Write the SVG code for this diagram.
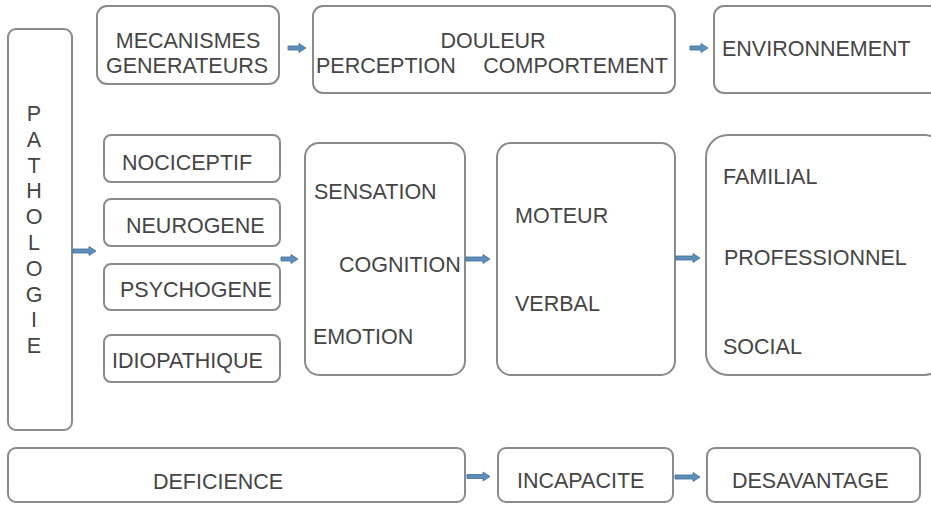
<svg xmlns="http://www.w3.org/2000/svg" width="931" height="505" viewBox="0 0 931 505">
<style>
.b{fill:#fff;stroke:#8a8a8a;stroke-width:2}
.t{font-family:"Liberation Sans",Arial,sans-serif;font-size:21.5px;fill:#454545}
.a{fill:#5d8fbb;stroke:#3f6d96;stroke-width:0.8}
</style>
<rect width="931" height="505" fill="#fff"/>
<g id="pathologie">
<rect class="b" x="8" y="29" width="64" height="401" rx="8"/>
<g class="t" text-anchor="middle">
<text x="34" y="121">P</text><text x="34" y="147">A</text><text x="34" y="173">T</text><text x="34" y="198">H</text><text x="34" y="224">O</text><text x="34" y="250">L</text><text x="34" y="276">O</text><text x="34" y="302">G</text><text x="34" y="327">I</text><text x="34" y="353">E</text>
</g>
</g>
<g id="mecanismes">
<rect class="b" x="97" y="6" width="182" height="78" rx="10"/>
<text class="t" x="188" y="48" text-anchor="middle">MECANISMES</text>
<text class="t" x="187" y="73" text-anchor="middle">GENERATEURS</text>
</g>
<g id="douleur">
<rect class="b" x="313" y="6" width="362" height="87" rx="10"/>
<text class="t" x="493" y="48" text-anchor="middle">DOULEUR</text>
<text class="t" x="316" y="73">PERCEPTION</text>
<text class="t" x="668" y="73" text-anchor="end">COMPORTEMENT</text>
</g>
<g id="environnement">
<rect class="b" x="714" y="6" width="230" height="87" rx="10"/>
<text class="t" x="722" y="56">ENVIRONNEMENT</text>
</g>
<g id="nociceptif">
<rect class="b" x="104" y="135" width="176" height="47" rx="7"/>
<text class="t" x="122" y="170">NOCICEPTIF</text>
</g>
<g id="neurogene">
<rect class="b" x="104" y="199" width="176" height="47" rx="7"/>
<text class="t" x="126" y="233">NEUROGENE</text>
</g>
<g id="psychogene">
<rect class="b" x="104" y="264" width="176" height="46" rx="7"/>
<text class="t" x="120" y="297">PSYCHOGENE</text>
</g>
<g id="idiopathique">
<rect class="b" x="104" y="335" width="176" height="47" rx="7"/>
<text class="t" x="112" y="368">IDIOPATHIQUE</text>
</g>
<g id="sensation">
<rect class="b" x="305" y="143" width="160" height="232" rx="14"/>
<text class="t" x="314" y="199">SENSATION</text>
<text class="t" x="339" y="272">COGNITION</text>
<text class="t" x="313" y="344">EMOTION</text>
</g>
<g id="moteur">
<rect class="b" x="497" y="143" width="178" height="232" rx="14"/>
<text class="t" x="515" y="223">MOTEUR</text>
<text class="t" x="515" y="311">VERBAL</text>
</g>
<g id="familial">
<rect class="b" x="706" y="135" width="240" height="240" rx="22"/>
<text class="t" x="723" y="184">FAMILIAL</text>
<text class="t" x="724" y="265">PROFESSIONNEL</text>
<text class="t" x="723" y="354">SOCIAL</text>
</g>
<g id="deficience">
<rect class="b" x="8" y="448" width="457" height="54" rx="8"/>
<text class="t" x="153" y="489">DEFICIENCE</text>
</g>
<g id="incapacite">
<rect class="b" x="498" y="448" width="175" height="54" rx="8"/>
<text class="t" x="517" y="488">INCAPACITE</text>
</g>
<g id="desavantage">
<rect class="b" x="707" y="448" width="213" height="54" rx="8"/>
<text class="t" x="732" y="488">DESAVANTAGE</text>
</g>
<g id="connectors">
<path class="a" d="M288,46 H299 V43.5 L306,48 L299,52.5 V50 H288 Z"/>
<path class="a" d="M690,46 H701 V43.5 L708,48 L701,52.5 V50 H690 Z"/>
<path class="a" d="M73,249 H89 V246.5 L96,251 L89,255.5 V253 H73 Z"/>
<path class="a" d="M281,257 H291 V254.5 L298,259 L291,263.5 V261 H281 Z"/>
<path class="a" d="M466,257 H483 V254.5 L490,259 L483,263.5 V261 H466 Z"/>
<path class="a" d="M676,256 H693 V253.5 L700,258 L693,262.5 V260 H676 Z"/>
<path class="a" d="M467,474.5 H483 V472 L490,476.5 L483,481 V478.5 H467 Z"/>
<path class="a" d="M675,475 H693 V472.5 L700,477 L693,481.5 V479 H675 Z"/>
</g>
</svg>
